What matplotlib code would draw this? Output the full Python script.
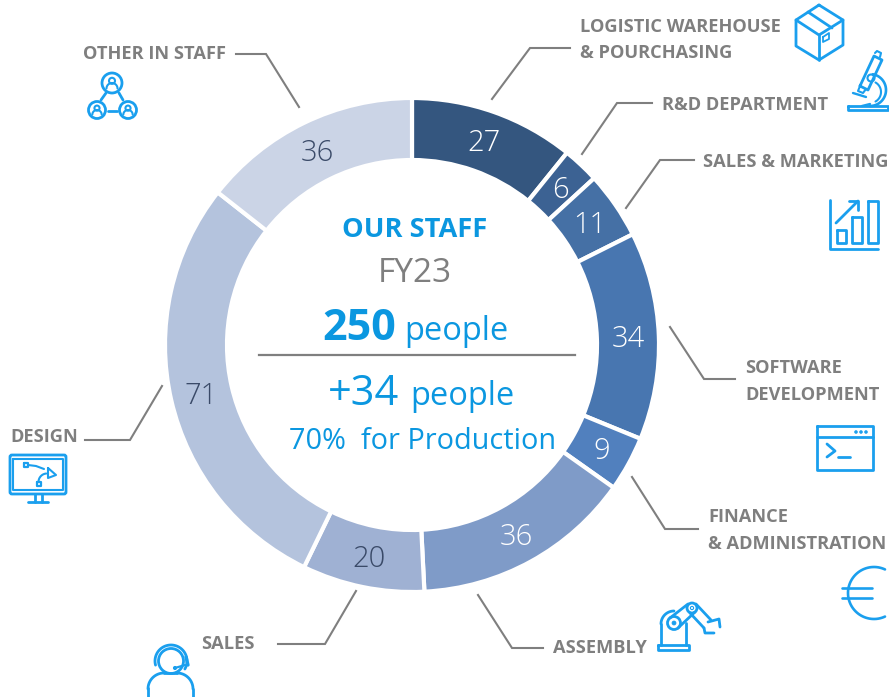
import numpy as np
import matplotlib
matplotlib.use("Agg")
import matplotlib.pyplot as plt
from matplotlib.patches import Circle, FancyBboxPatch

values = [27, 6, 11, 34, 9, 36, 20, 71, 36]
colors = ['#34567F', '#3C6293', '#4570A5', '#4876B0', '#5180BE', '#7F9BC8', '#9FB1D3', '#B4C3DD', '#CBD4E6']
value_colors = ['white', 'white', 'white', 'white', 'white', 'white', '#3A4A68', '#3A4A68', '#3A4A68']

W, H = 889, 697
BLUE = '#1A9FEE'
TXT = '#0B97E0'
GRAY = '#7F7F7F'
plt.rcParams['font.family'] = ['Open Sans', 'DejaVu Sans']

fig = plt.figure(figsize=(W / 100, H / 100), dpi=100, facecolor='white')

# overlay in pixel coordinates (annotation layer)
ov = fig.add_axes([0, 0, 1, 1], zorder=3)
ov.set_xlim(0, W)
ov.set_ylim(H, 0)
ov.axis('off')
ov.patch.set_alpha(0)

# donut
cx, cy, R = 412, 345, 247
ax = fig.add_axes([(cx - R) / W, 1 - (cy + R) / H, 2 * R / W, 2 * R / H], zorder=1)
wedges, _ = ax.pie(values, colors=colors, startangle=90, counterclock=False, radius=1,
                   wedgeprops=dict(width=0.251, edgecolor='white', linewidth=3))
ax.set_xlim(-1, 1)
ax.set_ylim(-1, 1)
for w, v, c in zip(wedges, values, value_colors):
    a = np.deg2rad((w.theta1 + w.theta2) / 2)
    ax.text(0.875 * np.cos(a), 0.875 * np.sin(a) - 0.01, str(v), ha='center', va='center',
            fontsize=21, color=c, fontweight='light')


def T(x, y, s, size, color=TXT, weight='normal', ha='left', va='baseline', **kw):
    ov.text(x, y, s, fontsize=size, color=color, fontweight=weight, ha=ha, va=va, **kw)


# centre texts
T(415, 237, "OUR STAFF", 19.6, weight='bold', ha='center')
T(415, 282, "FY23", 24, color=GRAY, ha='center')
T(322, 340, "250", 31, weight='bold')
T(404, 340, "people", 23.5)
ov.plot([259, 575], [355, 355], color=GRAY, lw=1.6)
T(328, 405, "+34", 30)
T(410, 405, "people", 23.5)
T(289, 449, "70%  for Production", 20.8)

# category labels
lab_style = dict(size=13.15, color=GRAY, weight='bold')
T(580, 32, "LOGISTIC WAREHOUSE", **lab_style)
T(580, 58, "& POURCHASING", **lab_style)
T(662, 110, "R&D DEPARTMENT", **lab_style)
T(703, 167, "SALES & MARKETING", **lab_style)
T(745, 373, "SOFTWARE", **lab_style)
T(745, 400, "DEVELOPMENT", **lab_style)
T(708, 522, "FINANCE", **lab_style)
T(708, 549, "& ADMINISTRATION", **lab_style)
T(553, 653, "ASSEMBLY", **lab_style)
T(201, 649, "SALES", **lab_style)
T(10, 442, "DESIGN", **lab_style)
T(83, 59, "OTHER IN STAFF", **lab_style)

# leader lines
leaders = [[(492, 99), (530, 48), (570, 48)], [(582, 154), (617, 103), (652, 103)],
           [(626, 208), (660, 160), (694, 160)], [(670, 327), (704, 379), (735, 379)],
           [(632, 477), (665, 529), (698, 529)], [(478, 595), (512, 648), (543, 648)],
           [(356, 591), (325, 644), (278, 644)], [(162, 386), (130, 440), (85, 440)],
           [(299, 107), (266, 54), (236, 54)]]
for pts in leaders:
    xs, ys = zip(*pts)
    ov.plot(xs, ys, color=GRAY, lw=1.5, solid_joinstyle='miter')


# icon helpers
def L(pts, lw=2.0, closed=False):
    xs, ys = zip(*(list(pts) + ([pts[0]] if closed else [])))
    ov.plot(xs, ys, color=BLUE, lw=lw, solid_capstyle='round', solid_joinstyle='round', clip_on=False)


def C(x, y, r, lw=2.0, fill=False):
    ov.add_patch(Circle((x, y), r, fill=fill, ec=BLUE, fc=BLUE if fill else 'none', lw=lw))


def A(x, y, r, a1, a2, lw=2.0):
    t = np.deg2rad(np.linspace(a1, a2, 60))
    ov.plot(x + r * np.cos(t), y + r * np.sin(t), color=BLUE, lw=lw, solid_capstyle='round')


# box
L([(819, 5), (843, 20), (843, 45), (819, 60), (796, 46), (796, 20)], closed=True)
L([(796, 20), (819, 35), (843, 20)])
L([(819, 35), (819, 60)])
L([(808, 12), (832, 28)])
L([(823, 37), (829, 33), (829, 39), (823, 42)], lw=1.3, closed=True)
# microscope
L([(848, 106), (888, 106), (888, 110), (848, 110)], closed=True)
L([(860, 86), (874, 56), (882, 60), (868, 90)], closed=True)
L([(875, 53), (877, 51), (881, 53), (880, 57)], lw=1.5)
L([(860, 86), (858, 91), (863, 93), (866, 89)], lw=1.5)
L([(853, 93), (866, 97)], lw=1.7)
C(871, 78, 3.5, lw=1.5)
A(870, 90, 16, -80, 90, lw=1.9)
A(870, 92, 11, -60, 60, lw=1.5)
L([(862, 106), (870, 104)], lw=1.7)
# chart
L([(830, 200), (830, 249), (878, 249)])
for x0, y0, x1 in [(837, 230, 846), (852, 217, 862), (868, 201, 878)]:
    L([(x0, y0), (x1, y0), (x1, 243), (x0, 243)], closed=True)
L([(836, 223), (858, 201)])
L([(849, 201), (858, 201), (858, 210)])
# terminal
L([(817, 426), (873, 426), (873, 470), (817, 470)], closed=True)
L([(817, 437), (873, 437)])
for x in (856, 861, 866):
    C(x, 432, 1.2, lw=0.8, fill=True)
L([(827, 444), (835, 451), (827, 457)])
L([(838, 457), (850, 457)])
# euro
A(874, 593, 26, 65, 295, lw=1.9)
L([(842, 588), (872, 588)], lw=1.9)
L([(842, 598), (872, 598)], lw=1.9)
# robot
L([(658, 645), (689, 645), (689, 650), (658, 650)], closed=True)
L([(661, 645), (661, 624)])
A(674, 624, 13, 180, 270)
L([(686, 645), (686, 623)])
C(674, 623, 6.5)
C(674, 623, 1.8, lw=0.8, fill=True)
C(692, 608, 5)
C(692, 608, 1.6, lw=0.8)
L([(670, 618), (688, 604)])
L([(678, 628), (695, 612)])
L([(696, 604), (711, 620)])
L([(690, 613), (704, 628)])
L([(708, 622), (719, 619), (720, 627)])
L([(704, 628), (705, 633), (714, 633)])
# headset person
C(171, 661, 12.5)
A(171, 661, 16, 165, 390)
L([(186, 657), (188, 665)], lw=2.4)
L([(175, 668), (185, 665)], lw=1.6)
C(175, 668, 1.5, lw=0.8, fill=True)
L([(148, 697), (148, 688)])
A(164, 689, 16, 180, 270)
L([(164, 673), (177, 673)])
A(177, 689, 16, 270, 360)
L([(193, 689), (193, 697)])
# design monitor
ov.add_patch(FancyBboxPatch((10, 455), 56, 39, boxstyle='round,pad=0,rounding_size=2', fill=False, ec=BLUE, lw=2.0))
L([(13, 459), (63, 459), (63, 490), (13, 490)], lw=1.5, closed=True)
L([(35, 494), (35, 502)])
L([(42, 494), (42, 502)])
L([(28, 502), (48, 502)])
L([(24, 463), (28, 463), (28, 467), (24, 467)], lw=1.6, closed=True)
L([(37, 482), (41, 482), (41, 486), (37, 486)], lw=1.6, closed=True)
L([(28, 465), (36, 466), (44, 469)], lw=1.5)
A(47, 482, 8.5, 180, 265, lw=1.5)
L([(48, 468), (56, 475), (48, 478)], lw=1.5, closed=True)
# network


def person(x, y, r):
    C(x, y, r)
    C(x, y - r * 0.22, r * 0.3, lw=1.5)
    A(x, y + r * 0.55, r * 0.55, 180, 360, lw=1.5)


person(112, 83, 10)
person(97, 110, 8.5)
person(128, 110, 8.5)
L([(101, 100), (106, 93)])
L([(123, 100), (119, 93)])
L([(108, 111), (117, 111)])

fig.savefig('out.png', dpi=100, facecolor='white')
